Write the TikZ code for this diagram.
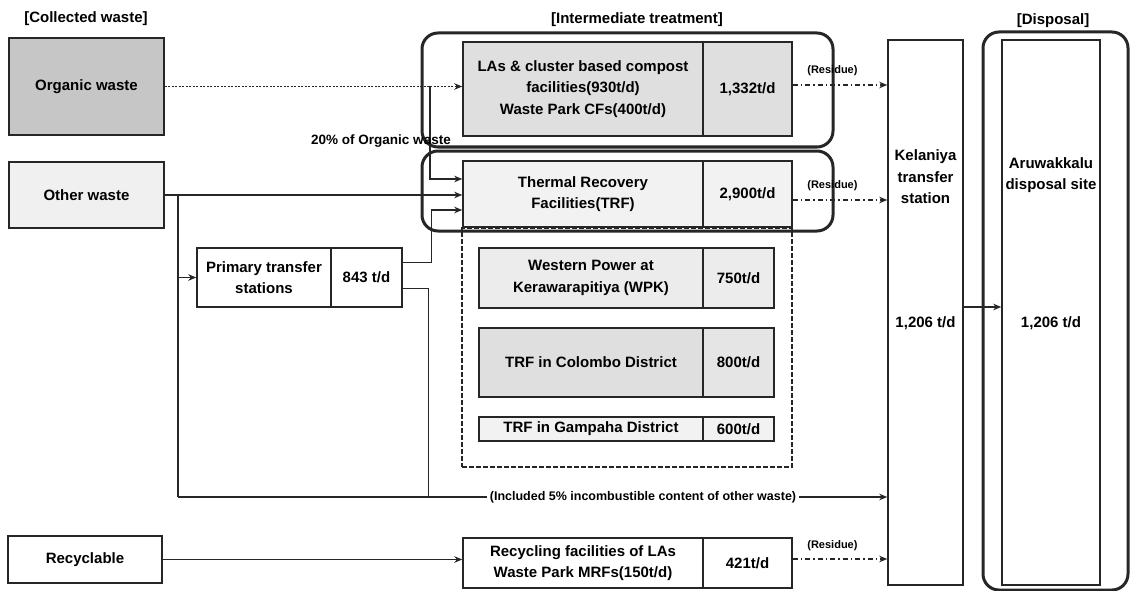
\documentclass[tikz,border=0pt]{standalone}
\usepackage{fontspec}
\setmainfont{Liberation Sans}
\usetikzlibrary{arrows.meta}
\definecolor{ink}{gray}{0.15}
\begin{document}
\begin{tikzpicture}[x=1pt,y=-1pt,
  every node/.style={font=\bfseries\fontsize{15}{21.5}\selectfont, text=black},
  box/.style={draw=ink, line width=1.5pt, inner sep=0pt, align=center},
  group/.style={draw=ink, line width=3pt, rounded corners=16pt, inner sep=0pt},
  flow/.style={draw=ink, line width=1.4pt, -{Stealth[length=8pt,width=6.5pt]}},
  plain/.style={draw=ink, line width=1.4pt},
  dots/.style={line width=1.6pt, dash pattern=on 2pt off 1.5pt},
  resid/.style={flow, dash pattern=on 5pt off 3pt on 1.5pt off 3pt},
  small/.style={font=\bfseries\fontsize{11}{13}\selectfont},
  mid/.style={font=\bfseries\fontsize{12.5}{14}\selectfont},
]
\useasboundingbox (0,0) rectangle (1132,591);

% titles
\node (t1) at (86,19) {[Collected waste]};
\node (t2) at (637,20) {[Intermediate treatment]};
\node (t3) at (1053,21) {[Disposal]};

% group frames
\node[group, minimum width=411pt, minimum height=114pt] (g1) at (627.5,90) {};
\node[group, minimum width=411pt, minimum height=80pt] (g2) at (627.5,191) {};
\node[group, minimum width=145pt, minimum height=558pt] (g3) at (1055.5,311) {};
\node[draw=ink, line width=1.5pt, dash pattern=on 5pt off 2pt, inner sep=0pt,
      minimum width=330pt, minimum height=239pt] (dz) at (627,347.5) {};

% collected waste
\node[box, fill=gray!45, minimum width=155pt, minimum height=97pt] (org) at (86.5,86.5) {Organic waste};
\node[box, fill=gray!12, minimum width=155pt, minimum height=66pt] (oth) at (86.5,195) {Other waste};
\node[box, minimum width=154pt, minimum height=47pt] (rcy) at (85,559.5) {Recyclable};

% intermediate treatment
\node[box, fill=gray!25, minimum width=240pt, minimum height=94pt] (cmpL) at (583,89)
  {LAs \& cluster based compost\\facilities(930t/d)\\Waste Park CFs(400t/d)};
\node[box, fill=gray!25, minimum width=89pt, minimum height=94pt] (cmpR) at (747.5,89) {1,332t/d};

\node[box, fill=gray!10, minimum width=240pt, minimum height=66pt] (trfL) at (583,194)
  {Thermal Recovery\\Facilities(TRF)};
\node[box, fill=gray!10, minimum width=89pt, minimum height=66pt] (trfR) at (747.5,194) {2,900t/d};

\node[box, fill=gray!15, minimum width=224pt, minimum height=60pt] (wpkL) at (591,278)
  {Western Power at\\Kerawarapitiya (WPK)};
\node[box, fill=gray!15, minimum width=71pt, minimum height=60pt] (wpkR) at (738.5,278) {750t/d};

\node[box, fill=gray!25, minimum width=224pt, minimum height=69pt] (colL) at (591,362.5)
  {TRF in Colombo District};
\node[box, fill=gray!20, minimum width=71pt, minimum height=69pt] (colR) at (738.5,362.5) {800t/d};

\node[box, fill=gray!10, minimum width=224pt, minimum height=24pt] (gamL) at (591,429)
  {TRF in Gampaha District};
\node[box, fill=gray!10, minimum width=71pt, minimum height=24pt] (gamR) at (738.5,429) {600t/d};

\node[box, minimum width=134pt, minimum height=59pt] (prL) at (264,277.5) {Primary transfer\\stations};
\node[box, minimum width=71pt, minimum height=59pt] (prR) at (366.5,277.5) {843 t/d};

\node[box, minimum width=240pt, minimum height=50pt] (rfL) at (583,563)
  {Recycling facilities of LAs\\Waste Park MRFs(150t/d)};
\node[box, minimum width=89pt, minimum height=50pt] (rfR) at (747.5,563) {421t/d};

% transfer / disposal
\node[box, minimum width=75pt, minimum height=545pt] (kel) at (925.5,312.5) {};
\node[align=center] (kelt) at (925.5,177) {Kelaniya\\transfer\\station};
\node (kelv) at (925.5,323) {1,206 t/d};
\node[box, minimum width=98pt, minimum height=545pt] (aru) at (1051,312.5) {};
\node[align=center] (arut) at (1051,175) {Aruwakkalu\\disposal site};
\node (aruv) at (1051,323) {1,206 t/d};

% connectors
\coordinate (ob) at (430,86.5);
\draw[plain, dots] (org.east) -- (ob);
\draw[flow, dots] (ob) -- (ob -| cmpL.west);
\draw[flow] (ob) |- ([yshift=15pt]trfL.west);
\node[font=\bfseries\fontsize{13.5}{15}\selectfont] (pct) at (381,141) {20\% of Organic waste};

\draw[flow] (oth.east) -- (oth.east -| trfL.west);
\coordinate (j1) at (178,195);
\coordinate (j2) at (178,497);
\draw[plain] (j1) -- (j2);
\draw[flow] (j2) -- (j2 -| kel.west);
\draw[flow] (j1 |- prL.west) -- (prL.west);
\draw[flow] ([yshift=15pt]prR.east) -- ++(29,0) |- ([yshift=-16pt]trfL.west);
\draw[plain] ([yshift=-11pt]prR.east) -- ++(26,0) coordinate (m) -- (m |- j2);
\node[mid, fill=white, inner sep=3pt] (inc) at (643,497) {(Included 5\% incombustible content of other waste)};

\draw[flow] (rcy.east) -- (rcy.east -| rfL.west);

\draw[resid] ([yshift=4pt]cmpR.east) -- ([yshift=4pt]cmpR.east -| kel.west)
  node[pos=0.42, above=5pt, small] {(Residue)};
\draw[resid] ([yshift=-6pt]trfR.east) -- ([yshift=-6pt]trfR.east -| kel.west)
  node[pos=0.42, above=5pt, small] {(Residue)};
\draw[resid] ([yshift=4pt]rfR.east) -- ([yshift=4pt]rfR.east -| kel.west)
  node[pos=0.42, above=4pt, small] {(Residue)};
\draw[flow] ([yshift=5.5pt]kel.east) -- ([yshift=5.5pt]kel.east -| aru.west);
\end{tikzpicture}
\end{document}
